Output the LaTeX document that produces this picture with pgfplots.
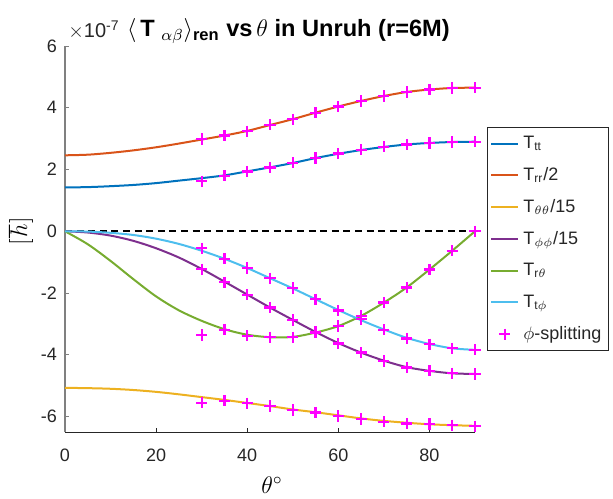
\documentclass[border=0pt]{standalone}
\usepackage{fontspec}
\setmainfont{Liberation Sans}
\usepackage{pgfplots}
\pgfplotsset{compat=1.18}
\usepackage{pgfplotstable}

\definecolor{c1}{rgb}{0,0.447,0.741}
\definecolor{c2}{rgb}{0.850,0.325,0.098}
\definecolor{c3}{rgb}{0.929,0.694,0.125}
\definecolor{c4}{rgb}{0.494,0.184,0.556}
\definecolor{c5}{rgb}{0.466,0.674,0.188}
\definecolor{c6}{rgb}{0.301,0.745,0.933}
\definecolor{mag}{rgb}{1,0,1}
\definecolor{axgray}{rgb}{0.5,0.5,0.5}
\definecolor{axdark}{rgb}{0.15,0.15,0.15}

\pgfplotsset{
  lineleg/.style={legend image code/.code={\draw[##1, line width=1pt] (0pt,0pt) -- (13.5pt,0pt);}},
  plusleg/.style={legend image code/.code={\draw[##1] plot coordinates {(6.75pt,0pt)};}},
  splitmark/.style={only marks, mark=+, mark size=2.8pt, color=mag, mark options={draw=mag, line width=1.15pt}},
}

% curves (units of 1e-7)
\pgfplotstableread{
th tt rr thth phph rth tph
0 1.42 2.46 -5.07 0 0 0
5 1.43 2.48 -5.08 -0.04 -0.42 -0.01
10 1.46 2.54 -5.10 -0.14 -0.96 -0.05
15 1.50 2.62 -5.14 -0.31 -1.55 -0.12
20 1.56 2.72 -5.20 -0.55 -2.11 -0.24
25 1.64 2.84 -5.28 -0.85 -2.56 -0.41
30 1.72 2.97 -5.37 -1.22 -2.90 -0.63
35 1.81 3.10 -5.46 -1.63 -3.17 -0.89
40 1.94 3.25 -5.56 -2.05 -3.35 -1.19
45 2.07 3.44 -5.66 -2.47 -3.43 -1.52
50 2.21 3.63 -5.77 -2.87 -3.42 -1.85
55 2.37 3.84 -5.86 -3.26 -3.28 -2.20
60 2.51 4.04 -5.96 -3.62 -3.07 -2.55
65 2.63 4.22 -6.06 -3.93 -2.74 -2.88
70 2.73 4.38 -6.14 -4.19 -2.31 -3.18
75 2.81 4.51 -6.20 -4.40 -1.82 -3.45
80 2.86 4.59 -6.25 -4.52 -1.24 -3.65
85 2.89 4.64 -6.28 -4.60 -0.63 -3.79
90 2.90 4.65 -6.30 -4.62 0 -3.84
}\curves

% phi-splitting points
\pgfplotstableread{
th tt rr thth phph rth tph
30 1.62 2.99 -5.55 -1.23 -3.36 -0.55
35 1.80 3.10 -5.49 -1.65 -3.19 -0.89
40 1.94 3.24 -5.57 -2.06 -3.38 -1.19
45 2.07 3.45 -5.66 -2.47 -3.43 -1.52
50 2.22 3.63 -5.79 -2.87 -3.43 -1.84
55 2.37 3.84 -5.87 -3.26 -3.28 -2.20
60 2.52 4.04 -5.98 -3.63 -3.07 -2.57
65 2.64 4.22 -6.08 -3.93 -2.74 -2.85
70 2.74 4.38 -6.17 -4.20 -2.31 -3.19
75 2.81 4.51 -6.22 -4.41 -1.82 -3.47
80 2.86 4.59 -6.24 -4.52 -1.24 -3.66
85 2.89 4.64 -6.28 -4.60 -0.63 -3.79
90 2.90 4.65 -6.31 -4.62 0 -3.84
}\splitpts

\begin{document}
\begin{tikzpicture}
\path[use as bounding box] (-32.5pt,-33pt) rectangle (274pt,216pt);
\begin{axis}[
  at={(0,0)}, anchor=south west,
  scale only axis, width=205pt, height=193pt,
  xmin=0, xmax=90, ymin=-6.5, ymax=6,
  xtick={0,20,40,60,80}, ytick={-6,-4,-2,0,2,4,6},
  axis lines*=left, axis line style={-},
  x axis line style={draw=axdark, line width=0.5pt},
  y axis line style={draw=axgray, line width=0.6pt},
  tick align=inside, major tick length=2pt,
  xtick style={draw=axdark, line width=0.4pt},
  ytick style={draw=axgray, line width=0.4pt},
  tick label style={font=\fontsize{9}{10.8}\selectfont, text=axdark},
  /pgf/number format/assume math mode=true,
  xticklabel style={anchor=base, yshift=-14.7pt},
  yticklabel style={anchor=east, xshift=-0.5pt},
  title={\fontsize{11.8}{13}\selectfont\bfseries $\langle$\,T\;$_{\alpha\beta}\rangle$\textsubscript{ren} vs\,$\theta$ in Unruh (r=6M)},
  title style={at={(rel axis cs:0.545,1)}, anchor=base, yshift=-1.5pt},
  xlabel={$\theta^\circ$},
  xlabel style={at={(rel axis cs:0.505,0)}, anchor=center, yshift=-26.5pt, font=\fontsize{12}{14}\selectfont},
  ylabel={$[\hbar]$},
  ylabel style={at={([xshift=-22pt]rel axis cs:0,0.52)}, anchor=center, font=\fontsize{12}{14}\selectfont},
  clip=false,
  legend style={at={(rel axis cs:1,0.5)}, anchor=west, xshift=6pt,
    draw=axdark, line width=0.4pt, fill=white,
    font=\fontsize{9}{10.8}\selectfont, text=axdark,
    inner xsep=1.5pt, inner ysep=2pt, row sep=4pt,
    legend cell align=left},
  lineleg,
]
\addplot[black, dashed, dash pattern=on 3.5pt off 2.3pt, line width=0.8pt, forget plot] coordinates {(0,0) (90,0)};
\addplot[c1, line width=1pt, smooth] table[x=th, y=tt] {\curves};
\addlegendentry{T\textsubscript{tt}}
\addplot[c2, line width=1pt, smooth] table[x=th, y=rr] {\curves};
\addlegendentry{T\textsubscript{rr}/2}
\addplot[c3, line width=1pt, smooth] table[x=th, y=thth] {\curves};
\addlegendentry{T\textsubscript{$\theta\theta$}/15}
\addplot[c4, line width=1pt, smooth] table[x=th, y=phph] {\curves};
\addlegendentry{T\textsubscript{$\phi\phi$}/15}
\addplot[c5, line width=1pt, smooth] table[x=th, y=rth] {\curves};
\addlegendentry{T\textsubscript{r$\theta$}}
\addplot[c6, line width=1pt, smooth] table[x=th, y=tph] {\curves};
\addlegendentry{T\textsubscript{t$\phi$}}
\addplot[splitmark, plusleg] table[x=th, y=tt] {\splitpts};
\addlegendentry{$\phi$-splitting}
\addplot[splitmark, forget plot] table[x=th, y=rr] {\splitpts};
\addplot[splitmark, forget plot] table[x=th, y=thth] {\splitpts};
\addplot[splitmark, forget plot] table[x=th, y=phph] {\splitpts};
\addplot[splitmark, forget plot] table[x=th, y=rth] {\splitpts};
\addplot[splitmark, forget plot] table[x=th, y=tph] {\splitpts};
\node[anchor=base west, inner sep=0pt, font=\fontsize{10}{12}\selectfont, text=axdark] at (rel axis cs:0,1) [xshift=1.5pt, yshift=4pt] {$\times$10\textsuperscript{-7}};
\end{axis}
\end{tikzpicture}
\end{document}
